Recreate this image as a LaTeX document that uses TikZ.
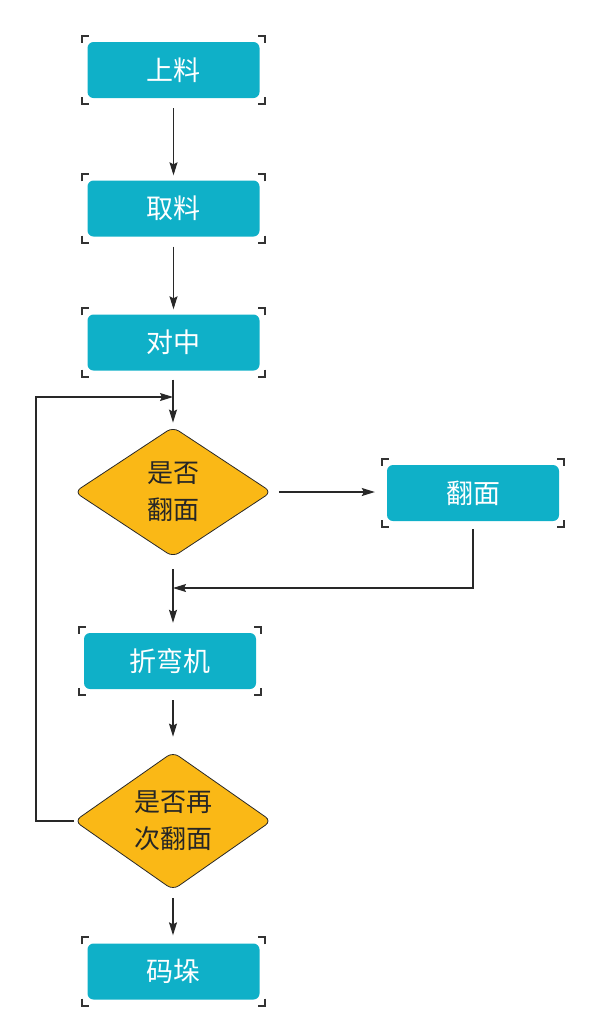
\documentclass[tikz,border=0pt]{standalone}
\usepackage{fontspec}
\newfontfamily\cjk{Noto Sans CJK SC}
\usetikzlibrary{shapes.geometric,arrows.meta}
\definecolor{boxteal}{RGB}{15,176,200}
\definecolor{askorange}{RGB}{250,184,22}
\definecolor{linegray}{RGB}{40,40,40}
\tikzset{
    stepbox/.style={rectangle, rounded corners=6pt, fill=boxteal, text=white,
        minimum width=172pt, minimum height=56pt, inner sep=0pt,
        font=\cjk\fontsize{27}{32}\selectfont},
    askbox/.style={diamond, rounded corners=7pt, fill=askorange, draw=linegray,
        line width=0.8pt, minimum width=197pt, minimum height=130pt, inner sep=0pt,
        align=center, text=black!85, font=\cjk\fontsize{26}{37}\selectfont},
    flow/.style={draw=linegray, line width=1.1pt, -{Stealth[length=13pt,width=8pt,inset=2pt]}},
    handle/.style={draw=black!80, line width=2pt}
}
% corner marks round a box
\newcommand{\handles}[1]{
    \draw[handle] ([xshift=-5pt,yshift=6pt]#1.north west) ++(0,-7pt) -- ++(0,7pt) -- ++(7pt,0);
    \draw[handle] ([xshift=5pt,yshift=6pt]#1.north east) ++(0,-7pt) -- ++(0,7pt) -- ++(-7pt,0);
    \draw[handle] ([xshift=-5pt,yshift=-6pt]#1.south west) ++(0,7pt) -- ++(0,-7pt) -- ++(7pt,0);
    \draw[handle] ([xshift=5pt,yshift=-6pt]#1.south east) ++(0,7pt) -- ++(0,-7pt) -- ++(-7pt,0);
}
\begin{document}
\begin{tikzpicture}[x=1pt, y=-1pt]
    \useasboundingbox (0,0) rectangle (596,1034);
    % steps
    \node[stepbox] (sl) at (173.5, 70) {上料};
    \node[stepbox] (ql) at (173.5, 208.5) {取料};
    \node[stepbox] (dz) at (173.5, 342.5) {对中};
    \node[askbox] (d1) at (173, 492) {是否\\翻面};
    \node[stepbox] (fm) at (473, 493) {翻面};
    \node[stepbox] (zw) at (170, 661) {折弯机};
    \node[askbox] (d2) at (173, 821) {是否再\\次翻面};
    \node[stepbox] (mg) at (173.5, 971.5) {码垛};
    \handles{sl}
    \handles{ql}
    \handles{dz}
    \handles{fm}
    \handles{zw}
    \handles{mg}
    % joins and bends
    \coordinate (j1) at (173, 397);
    \coordinate (j2) at (173, 588);
    \coordinate (lp) at (36, 397);
    % connectors
    \draw[flow, shorten <=10pt, shorten >=5pt] (sl) -- (ql);
    \draw[flow, shorten <=10pt, shorten >=5pt] (ql) -- (dz);
    \draw[flow, shorten <=9pt, shorten >=4pt] (dz.south -| d1.north) -- (d1.north);
    \draw[flow] (d2.west) -| (lp) -- (j1);
    \draw[flow, shorten <=7pt, shorten >=12pt] (d1.east) -- (d1.east -| fm.west);
    \draw[flow, shorten <=8pt] (fm.south) |- (j2);
    \draw[flow, shorten <=12pt, shorten >=10pt] (d1.south) -- (d1.south |- zw.north);
    \draw[flow, shorten <=11pt, shorten >=15pt] (d1.south |- zw.south) -- (d2.north);
    \draw[flow, shorten <=8pt, shorten >=8pt] (d2.south) -- (d2.south |- mg.north);
\end{tikzpicture}
\end{document}
